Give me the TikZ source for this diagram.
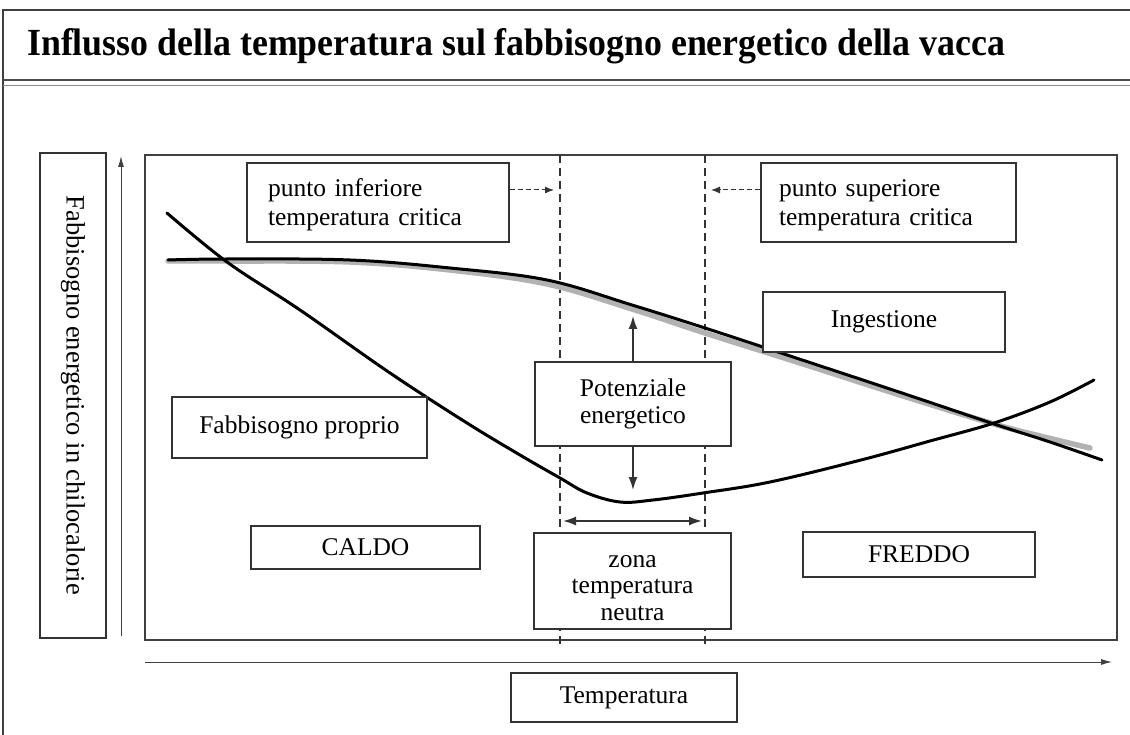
\documentclass[tikz,border=0pt]{standalone}
\usepackage{fontspec}
\setmainfont{Liberation Serif}
\usetikzlibrary{arrows.meta}
\begin{document}
\begin{tikzpicture}[x=1pt,y=-1pt,
 box/.style={draw=black!80, line width=1.3pt, fill=white, inner sep=0pt, font=\fontsize{25.5}{27.5}\selectfont, align=center},
 lbox/.style={box, align=left, font=\fontsize{25.5}{28.5}\selectfont},
 curve/.style={line width=3pt, black, line cap=round, line join=round},
 shade/.style={line width=5.5pt, black!30, line cap=round, line join=round},
 dline/.style={dash pattern=on 8pt off 5pt, line width=1.2pt, black!80},
 arr/.style={-{Latex[length=13pt,width=9pt]}, line width=1.5pt, black!80},
 darr/.style={{Latex[length=13pt,width=9pt]}-{Latex[length=13pt,width=9pt]}, line width=1.8pt, black!80},
 dasharr/.style={-{Latex[length=9pt,width=7pt]}, dash pattern=on 5pt off 3pt, line width=1pt, black!80},
 axis/.style={-{Latex[length=11pt,width=6pt]}, line width=1pt, black!75}]
\useasboundingbox (0,0) rectangle (1130,735);
\fill[white] (0,0) rectangle (1130,735);
% outer frame and title
\draw[line width=1.5pt, black!75] (3,735) -- (3,10) -- (1130,10);
\draw[line width=2pt, black!70] (3,80) -- (1130,80);
\draw[line width=1pt, black!45] (3,86) -- (1130,86);
\node[anchor=base west, inner sep=0pt] (title) at (27,56)
  {\resizebox{978pt}{27pt}{\bfseries Influsso della temperatura sul fabbisogno energetico della vacca}};
% y label and axis
\node[box, minimum width=66pt, minimum height=485pt, font=\fontsize{26.5}{28}\selectfont] (ylab) at (73,395.5)
  {\rotatebox{-90}{Fabbisogno energetico in chilocalorie}};
\coordinate (ya0) at (121,636);
\coordinate (ya1) at (121,156);
\draw[axis] (ya0) -- (ya1);
% plot frame
\draw[line width=1.3pt, black!75] (145,155) rectangle (1117,640);
% dashed verticals
\coordinate (d1t) at (560,155); \coordinate (d1b) at (560,645);
\coordinate (d2t) at (705,155); \coordinate (d2b) at (705,645);
\draw[dline] (d1t) -- (d1b);
\draw[dline] (d2t) -- (d2b);
% x axis
\coordinate (xa0) at (145,662);
\coordinate (xa1) at (1112,662);
\draw[axis] (xa0) -- (xa1);
% curves
\draw[shade] plot[smooth, tension=0.6] coordinates {(168,261) (227,261) (350,262) (450,270) (547,284) (632,309) (705,333) (800,363) (900,395) (994,424) (1040,436) (1090,448)};
\draw[curve] plot[smooth, tension=0.6] coordinates {(168,260) (227,259) (350,260) (450,268) (547,280) (632,305) (705,328) (781,353) (902,393) (994,424) (1050,442) (1102,460)};
\draw[curve] plot[smooth, tension=0.6] coordinates {(167,213) (227,262) (300,310) (390,373) (467,423) (520,455) (560,478) (587,493) (620,502) (653,500) (703,493) (770,482) (861,460) (930,441) (994,423) (1050,402) (1094,380)};
% boxes
\node[lbox, minimum width=262pt, minimum height=79pt, text width=220pt] (inf) at (378,202.5) {\rule{0pt}{22pt}punto inferiore\\temperatura critica};
\node[lbox, minimum width=255pt, minimum height=79pt, text width=219pt] (sup) at (888.5,202.5) {\rule{0pt}{22pt}punto superiore\\temperatura critica};
\node[box, minimum width=242pt, minimum height=60pt] (ing) at (884,322) {Ingestione};
\node[box, minimum width=196pt, minimum height=84pt] (pot) at (633,404) {Potenziale\\energetico};
\node[box, minimum width=255pt, minimum height=61pt] (fab) at (299.5,427.5) {Fabbisogno proprio};
\node[box, minimum width=229pt, minimum height=43pt] (caldo) at (365.5,547.5) {CALDO};
\node[box, minimum width=197pt, minimum height=96pt, font=\fontsize{25.5}{26.5}\selectfont] (zona) at (632.5,581) {\rule{0pt}{26pt}zona\\temperatura\\neutra};
\node[box, minimum width=232pt, minimum height=45pt] (freddo) at (919,554.5) {FREDDO};
\node[box, minimum width=226pt, minimum height=49pt] (temp) at (624,697.5) {Temperatura};
% connectors
\coordinate (infend) at (554,190);
\coordinate (supend) at (711,190);
\draw[dasharr] (inf.east |- infend) -- (infend);
\draw[dasharr] (sup.west |- supend) -- (supend);
\coordinate (potup) at (633,316);
\coordinate (potdn) at (633,490);
\draw[arr] (pot.north) -- (potup);
\draw[arr] (pot.south) -- (potdn);
\coordinate (zl) at (563,521);
\coordinate (zr) at (702,521);
\draw[darr] (zl) -- (zr);
\end{tikzpicture}
\end{document}
